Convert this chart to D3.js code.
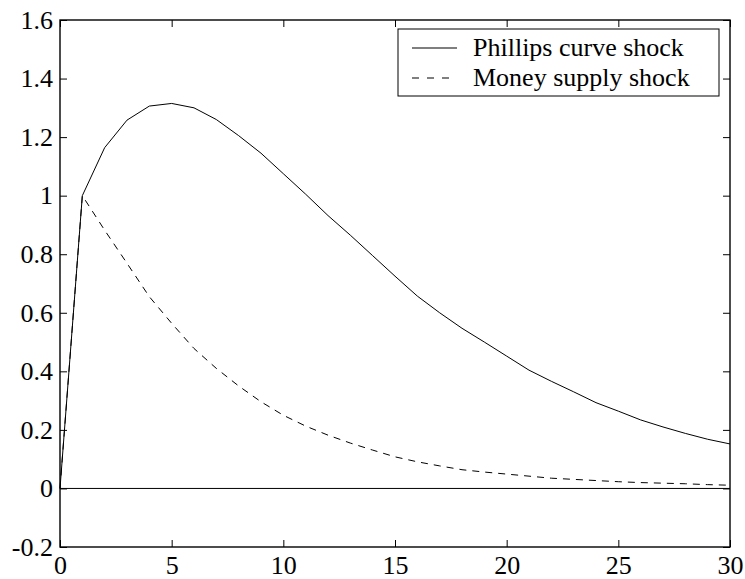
<!DOCTYPE html>
<html>
<head>
<meta charset="utf-8">
<script src="https://cdn.jsdelivr.net/npm/d3@7"></script>
<style>
  body { margin: 0; background: #fff; }
  svg { display: block; }
  text { font-family: "Liberation Serif", "Times New Roman", serif; }
</style>
</head>
<body>
<div id="chart"></div>
<script>
// Data
const periods = [0, 1, 2, 3, 4, 5, 6, 7, 8, 9, 10, 11, 12, 13, 14, 15, 16, 17, 18, 19, 20, 21, 22, 23, 24, 25, 26, 27, 28, 29, 30];
const phillips = [0, 1.0, 1.164, 1.258, 1.306, 1.315, 1.300, 1.260, 1.205, 1.145, 1.075, 1.005, 0.932, 0.865, 0.795, 0.725, 0.657, 0.600, 0.547, 0.500, 0.452, 0.404, 0.366, 0.330, 0.293, 0.264, 0.234, 0.210, 0.188, 0.168, 0.152];
const moneySupply = [0, 1.0, 0.882, 0.769, 0.655, 0.564, 0.478, 0.410, 0.350, 0.296, 0.250, 0.213, 0.182, 0.155, 0.131, 0.108, 0.091, 0.077, 0.064, 0.056, 0.049, 0.042, 0.035, 0.031, 0.027, 0.023, 0.020, 0.018, 0.016, 0.013, 0.011];
const seriesNames = ["Phillips curve shock", "Money supply shock"];
const xTicks = [0, 5, 10, 15, 20, 25, 30];
const yTicks = [-0.2, 0, 0.2, 0.4, 0.6, 0.8, 1, 1.2, 1.4, 1.6];
const yTickLabels = ["-0.2", "0", "0.2", "0.4", "0.6", "0.8", "1", "1.2", "1.4", "1.6"];

const width = 745, height = 579;
const margin = { top: 20, right: 15, bottom: 32, left: 60 };
const w = width - margin.left - margin.right;
const h = height - margin.top - margin.bottom;

const svg = d3.select("#chart").append("svg")
  .attr("width", width)
  .attr("height", height);

const ctr = svg.append("g")
  .attr("transform", `translate(${margin.left},${margin.top})`);

// Scales
const xScale = d3.scaleLinear().domain([0, 30]).range([0, w]);
const yScale = d3.scaleLinear().domain([-0.2, 1.6]).range([h, 0]);

const fontSize = 26;

// Axes - ticks point inward like matlab
const xAxis = d3.axisBottom(xScale).tickValues(xTicks).tickSizeInner(-7).tickSizeOuter(0).tickPadding(9);
const yAxis = d3.axisLeft(yScale).tickValues(yTicks).tickSizeInner(-7).tickSizeOuter(0).tickPadding(7)
  .tickFormat((d, i) => yTickLabels[i]);

const gx = ctr.append("g").attr("transform", `translate(0,${h})`).call(xAxis);
const gy = ctr.append("g").call(yAxis);

ctr.append("g").call(d3.axisTop(xScale).tickValues(xTicks).tickSizeInner(-7).tickSizeOuter(0).tickFormat(""));
ctr.append("g").attr("transform", `translate(${w},0)`)
  .call(d3.axisRight(yScale).tickValues(yTicks).tickSizeInner(-7).tickSizeOuter(0).tickFormat(""));

ctr.selectAll(".domain").remove();
ctr.selectAll(".tick line").attr("stroke", "#000").attr("stroke-width", 1);
[gx, gy].forEach((g) => g.selectAll("text")
  .style("font-size", fontSize + "px")
  .attr("fill", "#000"));

// Box around plot
ctr.append("rect")
  .attr("x", 0).attr("y", 0)
  .attr("width", w).attr("height", h)
  .attr("fill", "none")
  .attr("stroke", "#000")
  .attr("stroke-width", 1.4);

// Zero line
ctr.append("line")
  .attr("x1", xScale(0)).attr("x2", xScale(30))
  .attr("y1", yScale(0)).attr("y2", yScale(0))
  .attr("stroke", "#000")
  .attr("stroke-width", 1);

// Lines
const line = d3.line()
  .x((d, i) => xScale(periods[i]))
  .y((d) => yScale(d));

ctr.append("path")
  .datum(phillips)
  .attr("d", line)
  .attr("fill", "none")
  .attr("stroke", "#000")
  .attr("stroke-width", 1);

ctr.append("path")
  .datum(moneySupply)
  .attr("d", line)
  .attr("fill", "none")
  .attr("stroke", "#000")
  .attr("stroke-width", 1)
  .attr("stroke-dasharray", "7,6");

// Legend
const legend = svg.append("g").attr("transform", "translate(398,29)");
legend.append("rect")
  .attr("width", 321).attr("height", 67)
  .attr("fill", "#fff")
  .attr("stroke", "#000")
  .attr("stroke-width", 1);

const rows = legend.selectAll(".row")
  .data(seriesNames)
  .enter()
  .append("g")
  .attr("transform", (d, i) => `translate(0,${19 + i * 30})`);

rows.append("line")
  .attr("x1", 14).attr("x2", 59)
  .attr("y1", 0).attr("y2", 0)
  .attr("stroke", "#000")
  .attr("stroke-width", 1.2)
  .attr("stroke-dasharray", (d, i) => (i === 1 ? "7,8" : null));

rows.append("text")
  .attr("x", 75)
  .attr("y", 8)
  .style("font-size", fontSize + "px")
  .text((d) => d);
</script>
</body>
</html>
